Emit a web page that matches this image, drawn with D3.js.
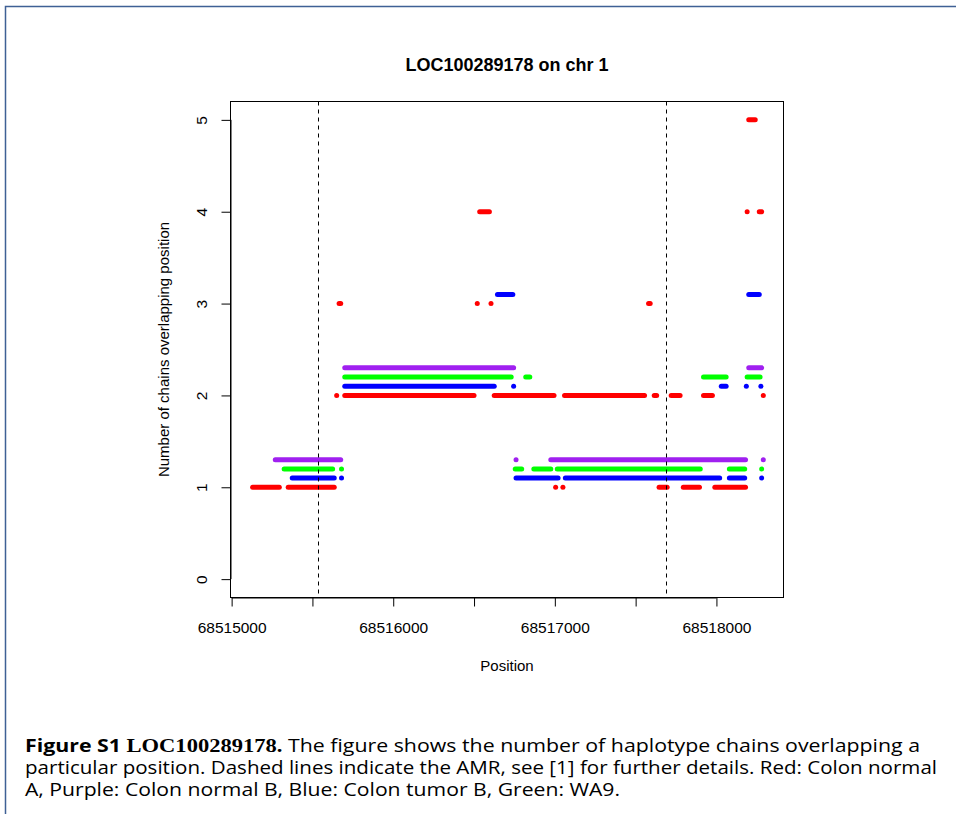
<!DOCTYPE html>
<html>
<head>
<meta charset="utf-8">
<script src="https://cdn.jsdelivr.net/npm/d3@7"></script>
<style>
  body { margin: 0; background: #fff; }
  svg { display: block; }
</style>
</head>
<body>
<svg id="chart" width="956" height="814"></svg>
<script>
// series: red = Colon normal A, blue = Colon tumor B, green = WA9, purple = Colon normal B
var seriesNames = ["Colon normal A", "Colon tumor B", "WA9", "Colon normal B"];
var seriesColors = ["#ff0000", "#0000ff", "#00ff00", "#a020f0"];
var seriesOffsets = [0, 0.1, 0.2, 0.3];

// runs of positions covered by N chains: [start, end, chains]
var redRuns = [
  [68515130, 68515295, 1], [68515350, 68515635, 1], [68517005, 68517005, 1], [68517050, 68517050, 1],
  [68517645, 68517695, 1], [68517795, 68517895, 1], [68517990, 68518180, 1],
  [68515650, 68515650, 2], [68515700, 68516500, 2], [68516625, 68516995, 2], [68517060, 68517555, 2],
  [68517615, 68517630, 2], [68517720, 68517775, 2], [68517920, 68517975, 2], [68518290, 68518290, 2],
  [68515665, 68515675, 3], [68516520, 68516520, 3], [68516605, 68516605, 3], [68517580, 68517590, 3],
  [68516535, 68516595, 4], [68518190, 68518190, 4], [68518265, 68518280, 4],
  [68518200, 68518240, 5]
];
var blueRuns = [
  [68515375, 68515635, 1], [68515680, 68515680, 1], [68516760, 68517020, 1], [68517065, 68518020, 1],
  [68518080, 68518175, 1], [68518280, 68518280, 1],
  [68515700, 68516625, 2], [68516745, 68516745, 2], [68518030, 68518060, 2], [68518185, 68518185, 2],
  [68518275, 68518275, 2],
  [68516645, 68516740, 3], [68518200, 68518265, 3]
];
var greenRuns = [
  [68515325, 68515625, 1], [68515680, 68515680, 1], [68516755, 68516795, 1], [68516870, 68516975, 1],
  [68517015, 68517900, 1], [68518080, 68518175, 1], [68518280, 68518280, 1],
  [68515700, 68516730, 2], [68516820, 68516845, 2], [68517920, 68518060, 2], [68518190, 68518270, 2]
];
var purpleRuns = [
  [68515270, 68515675, 1], [68516760, 68516760, 1], [68516975, 68518180, 1], [68518290, 68518290, 1],
  [68515700, 68516745, 2], [68518200, 68518280, 2]
];
var allRuns = [redRuns, blueRuns, greenRuns, purpleRuns];

var amrBounds = [68515535, 68517690];
var xLimits = [68514993, 68518415];
var yLimits = [-0.2, 5.2];
var xTicks = [68515000, 68515500, 68516000, 68516500, 68517000, 68517500, 68518000];
var xLabelTicks = [68515000, 68516000, 68517000, 68518000];
var yTicks = [0, 1, 2, 3, 4, 5];

var svg = d3.select("#chart");

// page frame
svg.append("path")
   .attr("d", "M5.5,814 V6.5 H956")
   .attr("fill", "none")
   .attr("stroke", "#3f6095")
   .attr("stroke-width", 1.5);

var box = { left: 230.5, right: 783.5, top: 101.5, bottom: 597.5 };

var x = d3.scaleLinear().domain(xLimits).range([box.left, box.right]);
var y = d3.scaleLinear().domain(yLimits).range([box.bottom, box.top]);

var font = "'Liberation Sans', Arial, Helvetica, sans-serif";

// runs of points, drawn as fat round-capped strokes
allRuns.forEach(function(runs, s){
  var g = svg.append("g").attr("class", "series");
  g.selectAll("line")
    .data(runs.filter(function(d){ return d[1] > d[0]; }))
    .enter()
      .append("line")
      .attr("x1", function(d){ return x(d[0]); })
      .attr("x2", function(d){ return x(d[1]); })
      .attr("y1", function(d){ return y(d[2] + seriesOffsets[s]); })
      .attr("y2", function(d){ return y(d[2] + seriesOffsets[s]); })
      .attr("stroke", seriesColors[s])
      .attr("stroke-width", 5)
      .attr("stroke-linecap", "round");
  g.selectAll("circle")
    .data(runs.filter(function(d){ return d[1] == d[0]; }))
    .enter()
      .append("circle")
      .attr("cx", function(d){ return x(d[0]); })
      .attr("cy", function(d){ return y(d[2] + seriesOffsets[s]); })
      .attr("r", 2.5)
      .attr("fill", seriesColors[s]);
});

// AMR dashed lines
svg.selectAll(".amr")
  .data(amrBounds)
  .enter()
    .append("line")
    .attr("class", "amr")
    .attr("x1", function(d){ return Math.round(x(d)) + 0.5; })
    .attr("x2", function(d){ return Math.round(x(d)) + 0.5; })
    .attr("y1", box.top)
    .attr("y2", box.bottom)
    .attr("stroke", "#000")
    .attr("stroke-width", 1)
    .attr("stroke-dasharray", "4,4");

// plot box
svg.append("rect")
   .attr("x", box.left)
   .attr("y", box.top)
   .attr("width", box.right - box.left)
   .attr("height", box.bottom - box.top)
   .attr("fill", "none")
   .attr("stroke", "#000")
   .attr("stroke-width", 1);

// x axis
var xAxis = d3.axisBottom(x)
  .tickValues(xTicks)
  .tickSize(9)
  .tickPadding(15)
  .tickFormat(function(d){ return xLabelTicks.indexOf(d) >= 0 ? d3.format("d")(d) : ""; });

var gx = svg.append("g")
  .attr("transform", "translate(0," + box.bottom + ")")
  .call(xAxis);
gx.select(".domain")
  .attr("d", "M" + x(xTicks[0]) + ",0.5H" + x(xTicks[xTicks.length - 1]));
gx.selectAll("text")
  .attr("font-family", font)
  .attr("font-size", 15.5)
  .attr("fill", "#000");

// y axis, labels parallel to the axis like R
var yAxis = d3.axisLeft(y)
  .tickValues(yTicks)
  .tickSize(9)
  .tickFormat(d3.format("d"));

var gy = svg.append("g")
  .attr("transform", "translate(" + box.left + ",0)")
  .call(yAxis);
gy.select(".domain")
  .attr("d", "M0.5," + y(yTicks[0]) + "V" + y(yTicks[yTicks.length - 1]));
gy.selectAll(".tick text")
  .attr("x", null)
  .attr("dy", null)
  .attr("transform", "translate(-24,0) rotate(-90)")
  .attr("text-anchor", "middle")
  .attr("font-family", font)
  .attr("font-size", 15.5)
  .attr("fill", "#000");

// titles
svg.append("text")
   .attr("x", (box.left + box.right) / 2)
   .attr("y", 71)
   .attr("text-anchor", "middle")
   .attr("font-family", font)
   .attr("font-weight", "bold")
   .attr("font-size", 18)
   .text("LOC100289178 on chr 1");

svg.append("text")
   .attr("x", (box.left + box.right) / 2)
   .attr("y", 671)
   .attr("text-anchor", "middle")
   .attr("font-family", font)
   .attr("font-size", 15)
   .text("Position");

svg.append("text")
   .attr("transform", "translate(169," + (box.top + box.bottom) / 2 + ") rotate(-90)")
   .attr("text-anchor", "middle")
   .attr("font-family", font)
   .attr("font-size", 15)
   .text("Number of chains overlapping position");

// figure caption
var capFont = "'Open Sans', 'DejaVu Sans', sans-serif";
var captionLines = [
  [["Figure S1 ", "sansb"], ["LOC100289178.", "serifb"], [" The figure shows the number of haplotype chains overlapping a", "sans"]],
  [["particular position. Dashed lines indicate the AMR, see [1] for further details. Red: Colon normal", "sans"]],
  [["A, Purple: " + seriesNames[3] + ", Blue: " + seriesNames[1] + ", Green: " + seriesNames[2] + ".", "sans"]]
];
var captionWidths = [895, 912, 595];

captionLines.forEach(function(parts, i){
  var t = svg.append("text")
    .attr("x", 25)
    .attr("y", 752 + i * 22)
    .attr("font-family", capFont)
    .attr("font-size", 17.5)
    .attr("textLength", captionWidths[i])
    .attr("lengthAdjust", "spacingAndGlyphs");
  parts.forEach(function(p){
    var ts = t.append("tspan").text(p[0]);
    if (p[1] == "sansb") ts.attr("font-weight", "bold");
    if (p[1] == "serifb") ts.attr("font-family", "'Liberation Serif', 'DejaVu Serif', serif").attr("font-weight", "bold").attr("font-size", 18.5);
  });
});
</script>
</body>
</html>
